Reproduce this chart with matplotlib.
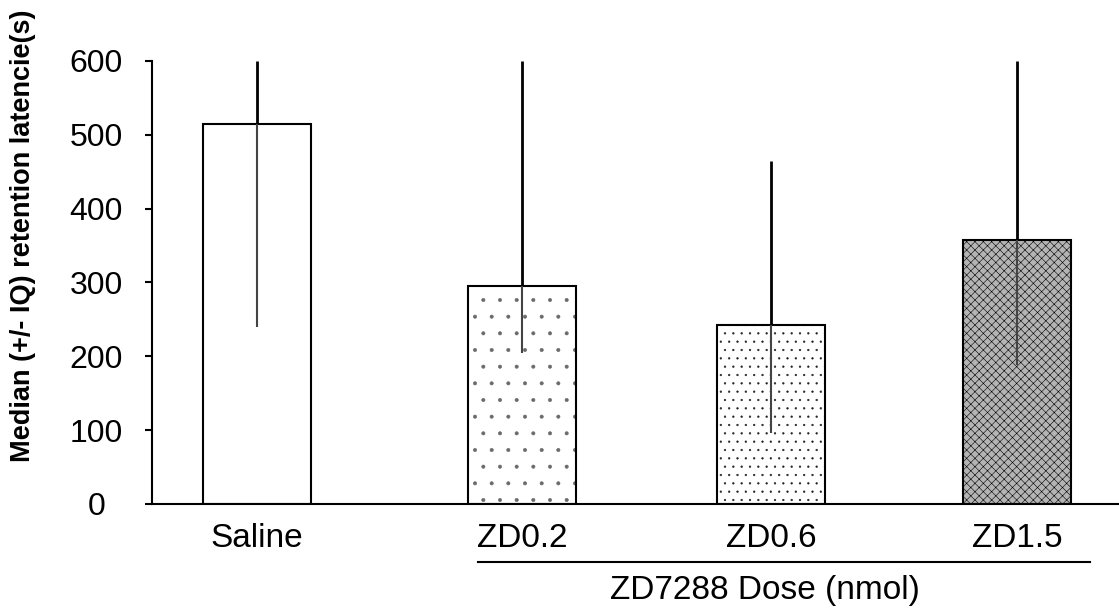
import numpy as np
import matplotlib.pyplot as plt

plt.rcParams['font.family'] = ['Liberation Sans', 'DejaVu Sans']
plt.rcParams['hatch.linewidth'] = 0.4

# 数据：中位数与四分位范围（上下限）
groups = ['Saline', 'ZD0.2', 'ZD0.6', 'ZD1.5']
median = [515, 295, 242, 357]
iq_low = [240, 205, 96, 188]
iq_high = [600, 600, 464, 600]
yticks = [0, 100, 200, 300, 400, 500, 600]

# 版面：柱子位置（不等间距，与原图一致）
xpos = np.array([0, 1.06, 2.056, 3.04])
width = 0.432
faces = ['white', 'white', 'white', '#b4b4b4']
hatches = [None, '.', '..', 'xxxx']
hatch_colors = ['black', '#6a6a6a', '#222222', 'black']

fig = plt.figure(figsize=(11.19, 6.14), dpi=100)
ax = fig.add_axes([0.1356, 0.1792, 0.8644, 0.7215])

for i in range(len(groups)):
    # 先画填充图案，再单独画黑色边框
    ax.bar(xpos[i], median[i], width=width, color=faces[i], edgecolor=hatch_colors[i],
           linewidth=0, hatch=hatches[i], zorder=2)
    ax.bar(xpos[i], median[i], width=width, fill=False, edgecolor='black',
           linewidth=1.5, zorder=2.5)

# 误差线：柱顶以上为黑色粗线，柱内为灰色细线
ax.vlines(xpos, median, iq_high, colors='black', linewidth=2, zorder=3)
ax.vlines(xpos, iq_low, median, colors='#444444', linewidth=1.5, zorder=3)

ax.set_xlim(-0.421, 3.448)
ax.set_ylim(0, 600)
ax.set_yticks(yticks)
ax.set_xticks(xpos)
ax.set_xticklabels(groups, fontsize=24)
ax.tick_params(axis='x', length=0, pad=14)
ax.tick_params(axis='y', length=5, width=1.5, pad=35, labelsize=23)
for lab in ax.get_yticklabels():
    lab.set_horizontalalignment('center')

for s in ['top', 'right']:
    ax.spines[s].set_visible(False)
ax.spines['left'].set_linewidth(1.5)
ax.spines['bottom'].set_linewidth(1.5)

# 纵轴标题
fig.text(23 / 1119, 1 - 236 / 614, 'Median (+/- IQ) retention latencie(s)',
         rotation=90, ha='center', va='center', fontsize=19.5, fontweight='bold')

# ZD 组下方的横线和标题
fig.add_artist(plt.Line2D([478 / 1119, 1090 / 1119], [1 - 562 / 614, 1 - 562 / 614],
                          color='black', linewidth=1.5))
fig.text(765 / 1119, 1 - 590 / 614, 'ZD7288 Dose (nmol)', ha='center', va='center',
         fontsize=24)

fig.savefig('out.png', dpi=100, facecolor='white')
